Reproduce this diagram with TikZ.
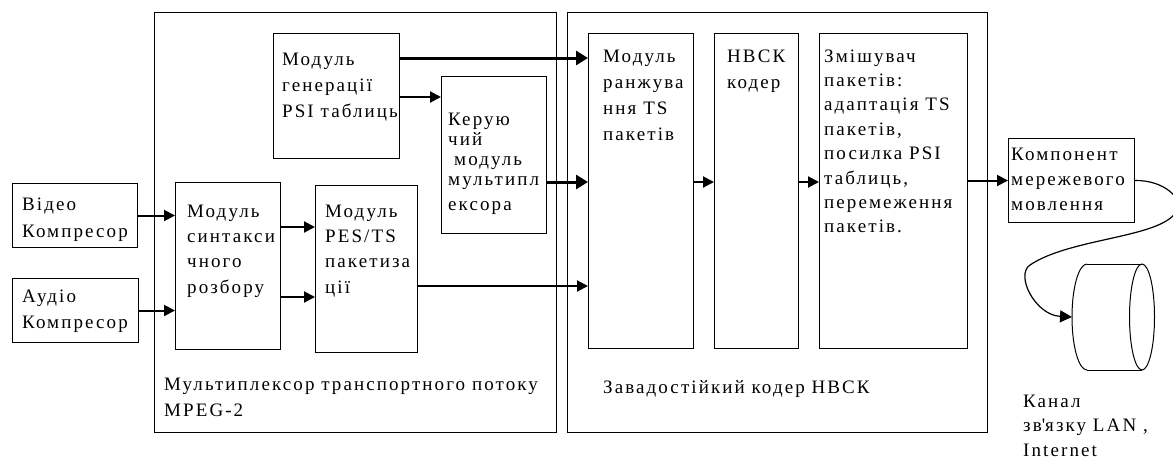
\documentclass[tikz,border=0pt]{standalone}
\usepackage{fontspec}
\setmainfont{Liberation Serif}[LetterSpace=11]
\usetikzlibrary{arrows.meta,calc}
\newcommand\lsz[1]{\fontsize{19}{#1}\selectfont}
\begin{document}
\begin{tikzpicture}[x=1pt,y=-1pt,
  box/.style={draw=black,line width=1pt,inner sep=0pt,anchor=north west},
  txt/.style={inner sep=0pt,anchor=north west,align=left},
  arr/.style={line width=2pt,-{Triangle[length=11pt,width=11pt]}},
  tarr/.style={line width=3pt,-{Triangle[length=12pt,width=14pt]}},
  carr/.style={line width=1.2pt,-{Triangle[length=12pt,width=12pt]}},
]
\useasboundingbox (0,0) rectangle (1173,459);
% outer boxes
\node[box,minimum width=402pt,minimum height=420pt] (mux) at (154,12) {};
\node[box,minimum width=420pt,minimum height=420pt] (fec) at (567,12) {};
% inner boxes
\node[box,minimum width=125pt,minimum height=64pt] (video) at (12,183) {};
\node[box,minimum width=126pt,minimum height=64pt] (audio) at (12,278) {};
\node[box,minimum width=105pt,minimum height=167pt] (syntax) at (175,182) {};
\node[box,minimum width=102pt,minimum height=167pt] (pes) at (315,185) {};
\node[box,minimum width=126pt,minimum height=125pt] (psi) at (273,33) {};
\node[box,minimum width=105pt,minimum height=157pt] (ctrl) at (441,76) {};
\node[box,minimum width=105pt,minimum height=315pt] (rang) at (588,33) {};
\node[box,minimum width=84pt,minimum height=315pt] (hbck) at (714,33) {};
\node[box,minimum width=148pt,minimum height=315pt] (mixer) at (819,33) {};
\node[box,minimum width=126pt,minimum height=84pt] (net) at (1008,138) {};
% texts
\node[txt,font=\lsz{27}] (videoT) at (22,191.1) {\strut Відео\\Компресор};
\node[txt,font=\lsz{26}] (audioT) at (22,283.8) {\strut Аудіо\\Компресор};
\node[txt,font=\lsz{25.3}] (syntaxT) at (187,199.3) {\strut Модуль\\синтакси\\чного\\розбору};
\node[txt,font=\lsz{25.3}] (pesT) at (325,199.3) {\strut Модуль\\PES/TS\\пакетиза\\ції};
\node[txt,font=\lsz{26}] (psiT) at (282,46.8) {\strut Модуль\\генерації\\PSI таблиць};
\node[txt,font=\lsz{20}] (ctrlT) at (448,111) {\strut Керую\\чий\\\hspace*{6pt}модуль\\мультипл\\[5pt]ексора};
\node[txt,font=\lsz{26}] (rangT) at (603,43.8) {\strut Модуль\\ранжува\\ння TS\\пакетів};
\node[txt,font=\lsz{26}] (hbckT) at (727,43.8) {\strut НВСК\\кодер};
\node[txt,font=\lsz{24.4}] (mixerT) at (824,44.9) {\strut Змішувач\\пакетів:\\адаптація TS\\пакетів,\\посилка PSI\\таблиць,\\перемеження\\пакетів.};
\node[txt,font=\lsz{25}] (netT) at (1011,142.5) {\strut Компонент\\мережевого\\мовлення};
\node[txt,font=\lsz{26}] (muxT) at (164,371.8) {\strut Мультиплексор транспортного потоку\\MPEG-2};
\node[txt,font=\lsz{26}] (fecT) at (603,374.8) {\strut Завадостійкий кодер НВСК};
\node[txt,font=\lsz{24.5}] (chanT) at (1023,389.8) {\strut Канал\\зв\textquotesingle язку LAN ,\\Internet};
% levels
\coordinate (l58) at (0,58);
\coordinate (l97) at (0,97);
\coordinate (l182) at (0,182);
\coordinate (l227) at (0,227);
\coordinate (l286) at (0,286);
\coordinate (l297) at (0,297);
% connectors
\draw[arr] (video.east) -- (video.east -| syntax.west);
\draw[arr] (audio.east) -- (audio.east -| syntax.west);
\draw[arr] (syntax.east |- l227) -- (pes.west |- l227);
\draw[arr] (syntax.east |- l297) -- (pes.west |- l297);
\draw[arr] (psi.east |- l97) -- (ctrl.west |- l97);
\draw[tarr] (psi.east |- l58) -- (rang.west |- l58);
\draw[tarr] (ctrl.east |- l182) -- (rang.west |- l182);
\draw[arr] (pes.east |- l286) -- (rang.west |- l286);
\draw[arr] (rang.east |- l182) -- (hbck.west |- l182);
\draw[arr] (hbck.east |- l182) -- (mixer.west |- l182);
\draw[arr] (mixer.east |- net.west) -- (net.west);
% cylinder
\coordinate (cyl) at (1072,317);
\draw[line width=1pt] (1087,264) -- (1142,264);
\draw[line width=1pt] (1087,370) -- (1142,370);
\draw[line width=1pt] (1087,264) arc[start angle=90,end angle=270,x radius=15pt,y radius=53pt];
\draw[line width=1pt] (1142,317) ellipse[x radius=12.5pt,y radius=53pt];
% curve
\draw[carr] (net.east) .. controls (1165,180) and (1185,200) .. (1176,212)
  .. controls (1160,238) and (1070,238) .. (1030,265)
  .. controls (1015,275) and (1035,315) .. (cyl);
\end{tikzpicture}
\end{document}
